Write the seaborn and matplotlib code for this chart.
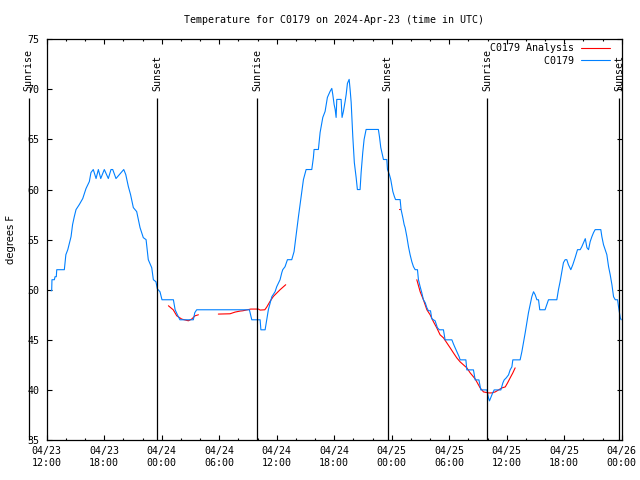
import numpy as np
import pandas as pd
import matplotlib
matplotlib.use("Agg")
import matplotlib.pyplot as plt
import matplotlib.dates as mdates
from matplotlib.lines import Line2D
import seaborn as sns

title = "Temperature for C0179 on 2024-Apr-23 (time in UTC)"
start = pd.Timestamp("2024-04-23 12:00")
end = pd.Timestamp("2024-04-26 00:00")

# observed series (hours since 04/23 12:00 UTC, degrees F)
obs_hours = [0.45, 0.52, 0.55, 0.80, 0.87, 1.0, 1.05, 1.84, 2.0, 2.2, 2.54, 2.7, 2.88, 3.06, 3.4, 3.76,
             4.1, 4.45, 4.62, 4.86, 5.15, 5.39, 5.64, 6.01, 6.43, 6.71, 6.89, 7.23, 8.04,
             8.25, 8.52, 8.75, 9.04, 9.39, 9.74, 10.08, 10.37, 10.6, 10.96, 11.13, 11.4, 11.54, 11.82,
             12.03, 13.22, 13.4, 13.64, 13.9, 15.3, 15.45, 15.65, 21.15, 21.4, 22.27, 22.35, 22.79,
             23.13, 23.49, 23.83, 24.0, 24.35, 24.53, 24.63, 24.87, 25.12, 25.57, 25.81, 26.1, 26.27,
             26.51, 26.79, 27.07, 27.66, 27.83, 27.9, 28.35, 28.53, 28.81, 29.05, 29.29, 29.57, 29.75,
             29.85, 29.99, 30.1, 30.2, 30.27, 30.72, 30.82, 30.96, 31.14, 31.25, 31.38, 31.56, 31.66,
             31.77, 31.94, 32.1, 32.29, 32.42, 32.7, 32.81, 32.98, 33.12, 33.33, 34.61, 34.72, 34.86,
             35.03, 35.14, 35.49, 35.56, 35.76, 35.9, 36.12, 36.28, 36.4, 36.88, 36.98, 37.16, 37.3,
             37.4, 37.58, 37.75, 37.92, 38.1, 38.27, 38.45, 38.69, 38.79, 38.97, 39.14, 39.31, 39.5,
             39.67, 39.83, 40.05, 40.18, 40.53, 40.77, 40.98, 41.4, 41.57, 42.28, 42.44, 42.62, 42.86,
             43.04, 43.14, 43.74, 43.84, 44.53, 44.71, 45.1, 45.3, 45.93, 46.1, 46.2, 46.45, 46.69,
             47.39, 47.6, 47.74, 47.95, 48.19, 48.36, 48.54, 48.64, 49.4, 49.58, 49.75, 49.93, 50.1,
             50.27, 50.45, 50.62, 50.8, 50.97, 51.15, 51.32, 51.45, 52.0, 52.18, 52.36, 53.23, 53.4,
             53.57, 53.75, 53.92, 54.1, 54.27, 54.44, 54.69, 54.9, 55.14, 55.39, 55.67, 55.84, 56.02,
             56.2, 56.37, 56.54, 56.71, 56.89, 57.06, 57.23, 57.82, 57.93, 58.1, 58.28, 58.45, 58.63,
             58.8, 58.98, 59.15, 59.33, 59.57, 59.67, 59.85, 59.95]
obs_temp = [49.9, 49.9, 51.0, 51.0, 51.3, 51.3, 52.0, 52.0, 53.5, 54.0, 55.3, 56.5, 57.3, 58.0, 58.5, 59.1,
            60.1, 60.8, 61.7, 62.0, 61.1, 62.0, 61.1, 62.0, 61.1, 62.0, 62.0, 61.1, 62.0,
            61.5, 60.3, 59.5, 58.2, 57.8, 56.2, 55.2, 55.0, 53.0, 52.2, 51.0, 50.8, 50.1, 49.8,
            49.0, 49.0, 48.0, 47.5, 47.0, 47.0, 47.7, 48.0, 48.0, 47.0, 47.0, 46.0, 46.0,
            48.0, 49.3, 49.8, 50.3, 51.0, 51.7, 52.0, 52.3, 53.0, 53.0, 53.8, 56.0, 57.3,
            59.0, 61.0, 62.0, 62.0, 63.2, 64.0, 64.0, 65.7, 67.2, 67.8, 69.2, 69.8, 70.1,
            69.5, 68.5, 68.0, 67.2, 69.0, 69.0, 67.2, 67.8, 68.8, 69.5, 70.6, 71.0, 70.0,
            68.7, 65.3, 62.7, 61.2, 60.0, 60.0, 61.7, 63.7, 65.0, 66.0, 66.0, 65.3, 64.2,
            63.5, 63.0, 63.0, 62.0, 61.5, 61.0, 59.8, 59.3, 59.0, 59.0, 58.0, 57.2, 56.5,
            56.2, 55.3, 54.3, 53.5, 52.8, 52.3, 52.0, 52.0, 51.0, 50.3, 49.7, 49.0, 48.7,
            48.2, 47.9, 47.9, 47.1, 46.9, 46.2, 46.0, 46.0, 45.0, 45.0, 44.6, 44.2, 43.7,
            43.3, 43.0, 43.0, 42.0, 42.0, 41.0, 41.0, 40.0, 40.0, 39.2, 38.9, 39.5, 40.0,
            40.0, 40.7, 41.0, 41.2, 41.5, 42.0, 42.3, 43.0, 43.0, 43.8, 44.7, 45.7, 46.7,
            47.7, 48.5, 49.3, 49.8, 49.5, 49.0, 49.0, 48.0, 48.0, 48.5, 49.0, 49.0, 50.0,
            50.8, 51.8, 52.7, 53.0, 53.0, 52.5, 52.0, 52.5, 53.2, 54.0, 54.0, 54.3, 54.7,
            55.1, 54.2, 54.0, 54.8, 55.3, 55.7, 56.0, 56.0, 55.3, 54.5, 54.0, 53.5, 52.3,
            51.5, 50.5, 49.3, 49.0, 49.0, 48.3, 47.2, 47.0]

# analysis series, split into segments where data is missing
ana_hours = [0.73, 0.79,
             12.7, 13.2, 13.57, 14.09, 14.78, 15.13, 15.48, 15.83,
             17.91, 19.13, 19.66, 20.18, 20.46, 21.29, 22.09, 22.27, 22.76, 22.96, 23.3, 23.65, 24.35, 24.94,
             36.77, 36.85,
             38.62, 38.97, 39.31, 39.67, 40.01, 40.36, 40.7, 41.05, 41.4, 41.75, 42.1, 42.44, 42.79, 43.14,
             43.49, 43.84, 44.19, 44.71, 45.23, 45.58, 46.1, 46.45, 46.8, 47.15, 47.5, 47.85, 48.09, 48.36,
             48.64, 48.88]
ana_temp = [50.6, 50.6,
            48.4, 48.0, 47.4, 47.07, 46.9, 47.07, 47.4, 47.5,
            47.57, 47.6, 47.77, 47.87, 47.9, 48.07, 48.07, 47.97, 48.0, 48.27, 48.83, 49.33, 50.0, 50.5,
            58.07, 58.07,
            51.0, 49.8, 49.0, 48.0, 47.5, 46.8, 46.2, 45.5, 45.2, 44.7, 44.2, 43.7, 43.2, 42.8,
            42.5, 42.2, 41.7, 41.1, 40.2, 39.8, 39.7, 39.7, 39.8, 40.0, 40.2, 40.3, 40.7, 41.2,
            41.7, 42.2]
ana_seg = [1, 1,
           2, 2, 2, 2, 2, 2, 2, 2,
           3, 3, 3, 3, 3, 3, 3, 3, 3, 3, 3, 3, 3, 3,
           4, 4,
           5, 5, 5, 5, 5, 5, 5, 5, 5, 5, 5, 5, 5, 5,
           5, 5, 5, 5, 5, 5, 5, 5, 5, 5, 5, 5, 5, 5,
           5, 5]

sun_hours = [-1.88, 11.55, 21.98, 35.6, 45.99, 59.72]
sun_labels = ["Sunrise", "Sunset", "Sunrise", "Sunset", "Sunrise", "Sunset"]
y_ticks = [35, 40, 45, 50, 55, 60, 65, 70, 75]
legend_labels = ["C0179 Analysis", "         C0179"]

RED = "#ff0000"
BLUE = "#0080ff"
FS = 7.2

sns.set_style("ticks", {"axes.edgecolor": "black", "xtick.color": "black", "ytick.color": "black",
                        "text.color": "black", "axes.labelcolor": "black"})
plt.rcParams["font.family"] = ["DejaVu Sans Mono", "DejaVu Sans"]

obs_df = pd.DataFrame({"time": start + pd.to_timedelta(obs_hours, unit="h"), "temp": obs_temp})
ana_df = pd.DataFrame({"time": start + pd.to_timedelta(ana_hours, unit="h"), "temp": ana_temp, "seg": ana_seg})

fig = plt.figure(figsize=(6.4, 4.8), dpi=100)
ax = fig.add_axes([46.7 / 640, 1 - 440 / 480, 575 / 640, 400.7 / 480])

sns.lineplot(data=ana_df, x="time", y="temp", units="seg", estimator=None, color=RED, lw=0.8,
             ax=ax, legend=False)
sns.lineplot(data=obs_df, x="time", y="temp", estimator=None, color=BLUE, lw=0.8, ax=ax, legend=False)

sun_times = mdates.date2num([(start + pd.Timedelta(hours=h)).to_pydatetime() for h in sun_hours])
ax.vlines(sun_times, 35, 69.1, colors="black", lw=0.9, clip_on=False)
for t, lab in zip(sun_times, sun_labels):
    ax.text(t, 69.8, lab, rotation=90, ha="center", va="bottom", fontsize=FS, clip_on=False)

ax.set_xlim(start.to_pydatetime(), end.to_pydatetime())
ax.set_ylim(35, 75)
ax.set_yticks(y_ticks)
ax.xaxis.set_major_locator(mdates.HourLocator(byhour=[0, 6, 12, 18]))
ax.xaxis.set_minor_locator(mdates.HourLocator(byhour=list(range(0, 24, 2))))
ax.xaxis.set_major_formatter(mdates.DateFormatter("%m/%d\n%H:%M"))
ax.tick_params(which="both", direction="in", top=True, right=True, labelsize=FS, width=0.8)
ax.tick_params(which="major", length=3.4)
ax.tick_params(which="minor", length=1.7)
ax.tick_params(axis="x", pad=4.5)
ax.tick_params(axis="y", pad=5)
for s in ax.spines.values():
    s.set_linewidth(0.9)
    s.set_color("black")

ax.set_xlabel("")
ax.set_ylabel("degrees F", family="DejaVu Sans", fontsize=FS)
ax.yaxis.set_label_coords(-0.0534, 0.5)
ax.set_title(title, fontsize=FS, pad=11.5)

handles = [Line2D([], [], color=RED, lw=0.8), Line2D([], [], color=BLUE, lw=0.8)]
ax.legend(handles, legend_labels, loc="upper right", bbox_to_anchor=(1 - 11.7 / 575, 1 - 4 / 400.7),
          frameon=False, markerfirst=False, handlelength=2.9, handletextpad=0.7, labelspacing=0.25,
          borderpad=0, borderaxespad=0, fontsize=FS)

fig.savefig("out.png", dpi=100)
